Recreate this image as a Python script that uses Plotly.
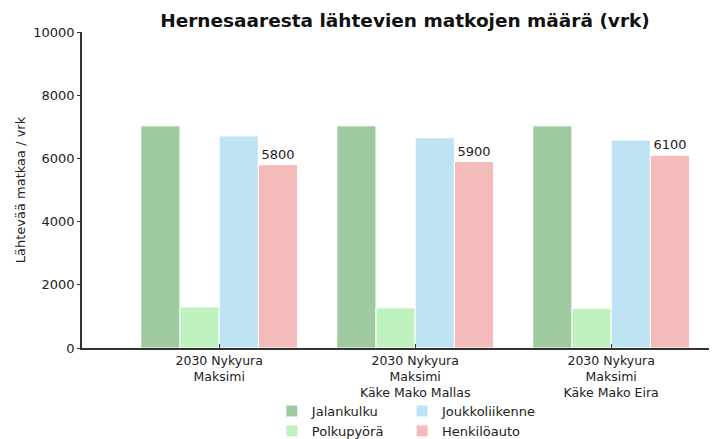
import plotly.graph_objects as go

categories = ["2030 Nykyura<br>Maksimi",
              "2030 Nykyura<br>Maksimi<br>Käke Mako Mallas",
              "2030 Nykyura<br>Maksimi<br>Käke Mako Eira"]
jalankulku = [7030, 7030, 7030]
polkupyora = [1300, 1270, 1260]
joukkoliikenne = [6710, 6650, 6580]
henkiloauto = [5800, 5900, 6100]

font_name = "DejaVu Sans"

# name, values, colour, legend column
series = [
    ("Jalankulku", jalankulku, "#9fca9f", "legend"),
    ("Polkupyörä", polkupyora, "#bff2bf", "legend"),
    ("Joukkoliikenne", joukkoliikenne, "#bee4f4", "legend2"),
    ("Henkilöauto", henkiloauto, "#f4bbbb", "legend2"),
]

fig = go.Figure()
for name, values, color, leg in series:
    bar = go.Bar(x=categories, y=values, name=name, legend=leg,
                 marker=dict(color=color, line=dict(color="white", width=1)))
    # only the car bars carry a value label
    if name == "Henkilöauto":
        bar.text = [str(v) for v in values]
        bar.textposition = "outside"
        bar.textfont = dict(family=font_name, size=13, color="#222222")
        bar.cliponaxis = False
    fig.add_trace(bar)

legend_style = dict(orientation="v", yanchor="top", y=-0.152, xanchor="left",
                    font=dict(family=font_name, size=13, color="#222222"),
                    bgcolor="rgba(0,0,0,0)", itemwidth=30, tracegroupgap=0)

# page body adds an 8px offset, so the figure is sized to the visible area
fig.update_layout(
    width=709, height=431,
    margin=dict(l=74, r=0, t=24, b=91, autoexpand=False),
    paper_bgcolor="white", plot_bgcolor="white",
    barmode="group", bargap=0.2, bargroupgap=0,
    title=dict(text="<b>Hernesaaresta lähtevien matkojen määrä (vrk)</b>",
               x=397 / 709, xref="container", xanchor="center",
               y=0.972, yref="container", yanchor="middle",
               font=dict(family=font_name, size=18.5, color="#111111")),
    legend=dict(x=0.299, **legend_style),
    legend2=dict(x=0.504, **legend_style),
)
fig.update_xaxes(range=[-0.7, 2.54], showline=True, linecolor="#333333", linewidth=1.5,
                 ticks="inside", ticklen=4, tickcolor="#333333", showgrid=False,
                 automargin=False,
                 tickfont=dict(family=font_name, size=12.5, color="#222222"))
fig.update_yaxes(range=[0, 10000], dtick=2000, tickformat="d", showline=True,
                 linecolor="#333333", linewidth=1.5, automargin=False,
                 ticks="outside", ticklen=3, tickcolor="#333333", showgrid=False, zeroline=False,
                 tickfont=dict(family=font_name, size=13, color="#222222"),
                 title=dict(text="Lähtevää matkaa / vrk", standoff=5,
                            font=dict(family=font_name, size=13, color="#222222")))

fig.write_html("out.html")
